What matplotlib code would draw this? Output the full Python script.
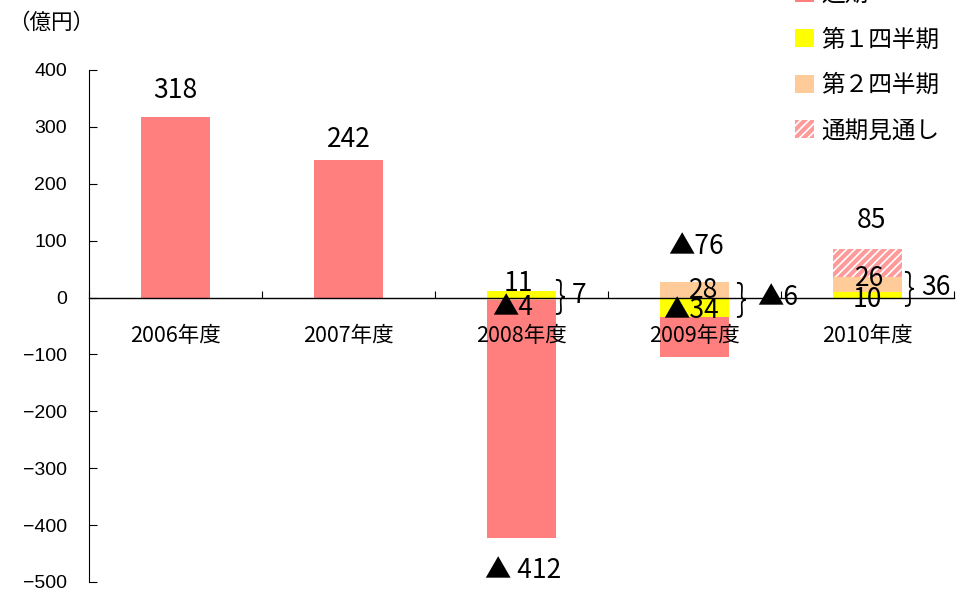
import matplotlib
matplotlib.use('Agg')
import matplotlib.pyplot as plt
from matplotlib.patches import Patch
import numpy as np

plt.rcParams['font.family'] = ['Noto Sans CJK JP', 'DejaVu Sans']
plt.rcParams['hatch.linewidth'] = 3.0

# 営業損益（億円）
years = ['2006年度', '2007年度', '2008年度', '2009年度', '2010年度']
q1 = [0, 0, 11, -34, 10]          # 第1四半期
q2 = [0, 0, -4, 28, 26]           # 第2四半期
full = [318, 242, -412, -76, 85]  # 通期（2010年度は見通し）
forecast = [False, False, False, False, True]

c_full = '#FF7F7F'
c_q1 = '#FFFF00'
c_q2 = '#FFCC99'
c_hatch = '#FF9A9A'

fig = plt.figure(figsize=(9.56, 5.92), dpi=100)
ax = fig.add_axes([89 / 956, 1 - 582 / 592, (954 - 89) / 956, 512 / 592])

x = np.arange(len(years))
w = 0.4

# positive and negative parts stack separately
pos = np.zeros(len(years))
neg = np.zeros(len(years))
for i in range(len(years)):
    h1 = q1[i] + q2[i]
    rest = full[i] - h1
    segs = [(q1[i], c_q1, False), (q2[i], c_q2, False), (rest, c_full, forecast[i])]
    for v, col, hatched in segs:
        if v == 0:
            continue
        base = pos[i] if v > 0 else neg[i]
        if hatched:
            ax.bar(x[i], v, w, bottom=base, color='white', edgecolor=c_hatch,
                   hatch='////', linewidth=0, zorder=1)
        else:
            ax.bar(x[i], v, w, bottom=base, color=col, linewidth=0, zorder=1)
        if v > 0:
            pos[i] += v
        else:
            neg[i] += v

ax.set_xlim(-0.5, len(years) - 0.5)
ax.set_ylim(-500, 400)
ax.set_yticks(np.arange(-500, 401, 100))
ax.yaxis.set_tick_params(direction='in', length=6, width=0.8, pad=16)
for lab in ax.get_yticklabels():
    lab.set_family('Liberation Sans')
    lab.set_fontsize(14)

# category axis sits on the zero line
ax.spines['bottom'].set_position(('data', 0))
ax.spines['top'].set_visible(False)
ax.spines['right'].set_visible(False)
ax.spines['bottom'].set_linewidth(1.0)
ax.spines['left'].set_linewidth(0.8)
ax.set_xticks(np.arange(-0.5, len(years), 1.0))
ax.set_xticklabels([])
ax.tick_params(axis='x', which='major', direction='in', length=5, width=0.8)
ax.set_xticks(x, minor=True)
ax.set_xticklabels(years, minor=True, fontsize=15.5)
ax.tick_params(axis='x', which='minor', length=0, pad=20)

fs = 19
# full-year labels
ax.annotate(f'{full[0]}', (x[0], full[0]), xytext=(0, 9), textcoords='offset points',
            ha='center', va='bottom', fontsize=fs)
ax.annotate(f'{full[1]}', (x[1], full[1]), xytext=(0, 5), textcoords='offset points',
            ha='center', va='bottom', fontsize=fs)
ax.text(x[2] + 0.01, -479, f'▲ {-full[2]}', ha='center', va='center', fontsize=fs)
ax.text(x[3] + 0.01, 89, f'▲{-full[3]}', ha='center', va='center', fontsize=fs)
ax.text(x[4] + 0.02, 136, f'{full[4]}', ha='center', va='center', fontsize=fs)


def qlabel(v):
    return f'{v}' if v >= 0 else f'▲{-v}'


brace = dict(ha='center', va='center', fontsize=26, fontweight='light')

# quarter labels with half-year totals
ax.text(x[2] + 0.07, 25, qlabel(q1[2]), ha='right', va='center', fontsize=fs)
ax.text(x[2] + 0.07, -17, qlabel(q2[2]), ha='right', va='center', fontsize=fs)
ax.text(x[2] + 0.22, 3, '}', **brace)
ax.text(x[2] + 0.29, 3, qlabel(q1[2] + q2[2]), ha='left', va='center', fontsize=fs)

ax.text(x[3] + 0.14, 12, qlabel(q2[3]), ha='right', va='center', fontsize=fs)
ax.text(x[3] + 0.14, -22, qlabel(q1[3]), ha='right', va='center', fontsize=fs)
ax.text(x[3] + 0.27, -3, '}', **brace)
ax.text(x[3] + 0.36, 0, qlabel(q1[3] + q2[3]), ha='left', va='center', fontsize=fs)

ax.text(x[4] + 0.01, 34, qlabel(q2[4]), ha='center', va='center', fontsize=fs)
ax.text(x[4] + 0.0, -3, qlabel(q1[4]), ha='center', va='center', fontsize=fs)
ax.text(x[4] + 0.24, 17, '}', **brace)
ax.text(x[4] + 0.31, 17, qlabel(q1[4] + q2[4]), ha='left', va='center', fontsize=fs)

fig.text(8 / 956, 1 - 23 / 592, '（億円）', ha='left', va='center', fontsize=15.5)

handles = [Patch(facecolor=c_full, linewidth=0),
           Patch(facecolor=c_q1, linewidth=0),
           Patch(facecolor=c_q2, linewidth=0),
           Patch(facecolor='white', edgecolor=c_hatch, hatch='////', linewidth=0)]
labels = ['通期', '第１四半期', '第２四半期', '通期見通し']
fig.legend(handles, labels, loc='upper left', bbox_to_anchor=(795 / 956, 1 + 17 / 592),
           frameon=False, fontsize=17, borderpad=0, borderaxespad=0,
           labelspacing=0.95, handlelength=0.8, handleheight=0.8, handletextpad=0.3)

fig.savefig('out.png', dpi=100)
